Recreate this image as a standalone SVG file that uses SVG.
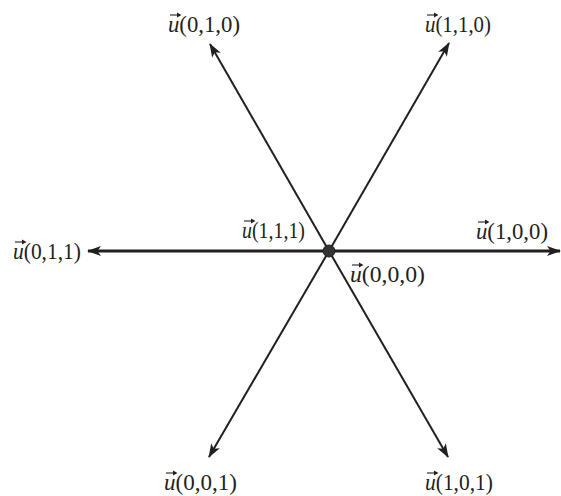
<svg xmlns="http://www.w3.org/2000/svg" width="561" height="496" viewBox="0 0 561 496">
<style>
.ax{stroke:#231f20;fill:none;marker-end:url(#ah)}
.d{stroke-width:2}
.h{stroke-width:3}
.lbl{font-family:"Liberation Serif","Times New Roman",serif;font-size:23px;fill:#231f20}
.u{font-style:italic}
.vec{stroke:#231f20;stroke-width:1.1;fill:none}
</style>
<defs>
<marker id="ah" viewBox="0 0 14 10" refX="13" refY="5" markerWidth="14" markerHeight="10" markerUnits="userSpaceOnUse" orient="auto">
<path d="M0,0 L14,5 L0,10 L3.5,5 Z" fill="#231f20"/>
</marker>
<g id="vec">
<path class="vec" d="M0,0 H10"/>
<path d="M7,-2.6 L11.5,0 L7,2.6 Z" fill="#231f20"/>
</g>
</defs>
<rect width="561" height="496" fill="#fff"/>
<g id="connectors">
<line class="ax h" x1="329" y1="251" x2="88" y2="251"/>
<line class="ax h" x1="329" y1="251" x2="560" y2="251"/>
<line class="ax d" x1="329" y1="251" x2="210" y2="44"/>
<line class="ax d" x1="329" y1="251" x2="449" y2="43"/>
<line class="ax d" x1="329" y1="251" x2="209" y2="457"/>
<line class="ax d" x1="329" y1="251" x2="448" y2="457"/>
</g>
<g id="origin">
<circle cx="329" cy="251" r="6" fill="#333" stroke="#231f20" stroke-width="1"/>
</g>
<g id="n011"><text class="lbl" x="13" y="259" textLength="68" lengthAdjust="spacingAndGlyphs"><tspan class="u">u</tspan>(0,1,1)</text><use href="#vec" x="15" y="242"/></g>
<g id="n111"><text class="lbl" x="242" y="238" textLength="63" lengthAdjust="spacingAndGlyphs"><tspan class="u">u</tspan>(1,1,1)</text><use href="#vec" x="244" y="221"/></g>
<g id="n000"><text class="lbl" x="350" y="282" textLength="75" lengthAdjust="spacingAndGlyphs"><tspan class="u">u</tspan>(0,0,0)</text><use href="#vec" x="352" y="265"/></g>
<g id="n100"><text class="lbl" x="476" y="239" textLength="72" lengthAdjust="spacingAndGlyphs"><tspan class="u">u</tspan>(1,0,0)</text><use href="#vec" x="478" y="222"/></g>
<g id="n010"><text class="lbl" x="168" y="32" textLength="72" lengthAdjust="spacingAndGlyphs"><tspan class="u">u</tspan>(0,1,0)</text><use href="#vec" x="170" y="15"/></g>
<g id="n110"><text class="lbl" x="425" y="32" textLength="66" lengthAdjust="spacingAndGlyphs"><tspan class="u">u</tspan>(1,1,0)</text><use href="#vec" x="427" y="15"/></g>
<g id="n001"><text class="lbl" x="164" y="490" textLength="73" lengthAdjust="spacingAndGlyphs"><tspan class="u">u</tspan>(0,0,1)</text><use href="#vec" x="166" y="473"/></g>
<g id="n101"><text class="lbl" x="425" y="490" textLength="68" lengthAdjust="spacingAndGlyphs"><tspan class="u">u</tspan>(1,0,1)</text><use href="#vec" x="427" y="473"/></g>
</svg>
